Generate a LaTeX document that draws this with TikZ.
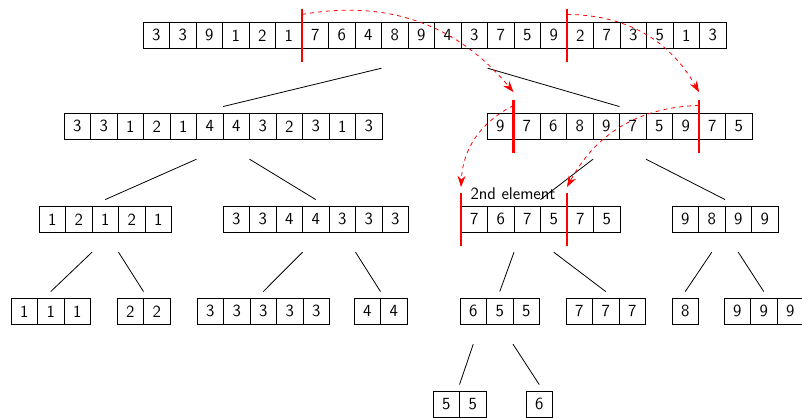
\documentclass[tikz,border=0pt]{standalone}
\usepackage{tikz}
\usetikzlibrary{arrows.meta}

\newcommand{\cellw}{0.7cm}
\tikzset{
  cella/.style={draw, line width=0.6pt, anchor=north west, minimum size=\cellw, inner sep=0pt, outer sep=0pt},
  riga/.style={anchor=north west, minimum height=\cellw, inner sep=0pt, outer sep=0pt},
  taglio/.style={red, line width=2pt},
  salto/.style={red, dashed, line width=0.6pt, -{Stealth[length=8.5pt,width=6pt]}},
  ramo/.style={line width=0.6pt},
}
% vettore: nome, posizione, numero di celle, valori
\newcommand{\vettore}[4]{%
  \node[riga, minimum width=#3*\cellw] (#1) at (#2) {};
  \foreach \val [count=\i] in {#4}
    \node[cella] (#1-\i) at ([xshift=(\i-1)*\cellw]#1.north west) {\val};
}

\begin{document}
\begin{tikzpicture}[x=0.02642cm, y=-0.02642cm, font=\fontsize{12.8}{15}\selectfont\sffamily]
    \useasboundingbox (0,0) rectangle (802,417);

    % Vettore iniziale
    \vettore{top}{143,22}{22}{3,3,9,1,2,1,7,6,4,8,9,4,3,7,5,9,2,7,3,5,1,3}

    % Primo livello
    \vettore{L}{64,113}{12}{3,3,1,2,1,4,4,3,2,3,1,3}
    \vettore{R}{487,113}{10}{9,7,6,8,9,7,5,9,7,5}

    % Secondo livello
    \vettore{LL}{39,206}{5}{1,2,1,2,1}
    \vettore{LR}{223,206}{7}{3,3,4,4,3,3,3}
    \vettore{RL}{461,206}{6}{7,6,7,5,7,5}
    \vettore{RR}{672,206}{4}{9,8,9,9}
    \node (etichetta) at (513,194) {2nd element};

    % Terzo livello
    \vettore{LLL}{11,298}{3}{1,1,1}
    \vettore{LLR}{117,298}{2}{2,2}
    \vettore{LRL}{197,298}{5}{3,3,3,3,3}
    \vettore{LRR}{354,298}{2}{4,4}
    \vettore{RLL}{460,298}{3}{6,5,5}
    \vettore{RLR}{566,298}{3}{7,7,7}
    \vettore{RRL}{672,298}{1}{8}
    \vettore{RRR}{724,298}{3}{9,9,9}

    % Quarto livello
    \vettore{RLLL}{433,391}{2}{5,5}
    \vettore{RLLR}{526,391}{1}{6}

    % Rami dell'albero
    \draw[ramo] ([yshift=-0.52cm]top-9.south east) -- ([yshift=0.17cm]L.north);
    \draw[ramo] ([yshift=-0.52cm]top-13.south east) -- ([yshift=0.17cm]R.north);
    \draw[ramo] ([yshift=-0.52cm]L-5.south east) -- ([yshift=0.17cm]LL.north);
    \draw[ramo] ([yshift=-0.52cm]L-7.south east) -- ([yshift=0.17cm]LR.north);
    \draw[ramo] ([yshift=-0.52cm]R-4.south east) -- ([yshift=0.17cm]RL.north);
    \draw[ramo] ([yshift=-0.52cm]R-6.south east) -- ([yshift=0.17cm]RR.north);
    \draw[ramo] ([yshift=-0.52cm]LL-2.south east) -- ([yshift=0.17cm]LLL.north);
    \draw[ramo] ([yshift=-0.52cm]LL-3.south east) -- ([yshift=0.17cm]LLR.north);
    \draw[ramo] ([yshift=-0.52cm]LR-3.south east) -- ([yshift=0.17cm]LRL.north);
    \draw[ramo] ([yshift=-0.52cm]LR-5.south east) -- ([yshift=0.17cm]LRR.north);
    \draw[ramo] ([yshift=-0.52cm]RL-2.south east) -- ([yshift=0.17cm]RLL.north);
    \draw[ramo] ([yshift=-0.52cm]RL-4.south) -- ([yshift=0.17cm]RLR.north);
    \draw[ramo] ([yshift=-0.52cm]RR-2.south) -- ([yshift=0.17cm]RRL.north);
    \draw[ramo] ([yshift=-0.52cm]RR-3.south) -- ([yshift=0.17cm]RRR.north);
    \draw[ramo] ([yshift=-0.52cm]RLL-1.south) -- ([yshift=0.17cm]RLLL.north);
    \draw[ramo] ([yshift=-0.52cm]RLL-2.south east) -- ([yshift=0.17cm]RLLR.north);

    % Tagli
    \draw[taglio] ([yshift=0.35cm]top-6.north east) -- ([yshift=-0.35cm]top-6.south east);
    \draw[taglio] ([yshift=0.35cm]top-16.north east) -- ([yshift=-0.35cm]top-16.south east);
    \draw[taglio] ([yshift=0.35cm]R-1.north east) -- ([yshift=-0.35cm]R-1.south east);
    \draw[taglio] ([yshift=0.35cm]R-8.north east) -- ([yshift=-0.35cm]R-8.south east);
    \draw[taglio] ([yshift=0.35cm]RL-1.north west) -- ([yshift=-0.35cm]RL-1.south west);
    \draw[taglio] ([yshift=0.35cm]RL-4.north east) -- ([yshift=-0.35cm]RL-4.south east);

    % Spostamenti dei tagli
    \coordinate (p1) at ([yshift=0.2cm]top-6.north east);
    \coordinate (p2) at ([yshift=0.2cm]top-16.north east);
    \coordinate (q1) at ([yshift=0.55cm]R-1.north east);
    \coordinate (q2) at ([yshift=0.55cm]R-8.north east);
    \coordinate (p3) at ([yshift=0.2cm]R-1.north east);
    \coordinate (p4) at ([yshift=0.2cm]R-8.north east);
    \coordinate (q3) at ([yshift=0.5cm]RL-1.north west);
    \coordinate (q4) at ([yshift=0.5cm]RL-4.north east);
    \draw[salto] (p1) to[bend left] (q1);
    \draw[salto] (p2) to[bend left] (q2);
    \draw[salto] (p3) to[bend right] (q3);
    \draw[salto] (p4) to[bend right] (q4);
\end{tikzpicture}
\end{document}
